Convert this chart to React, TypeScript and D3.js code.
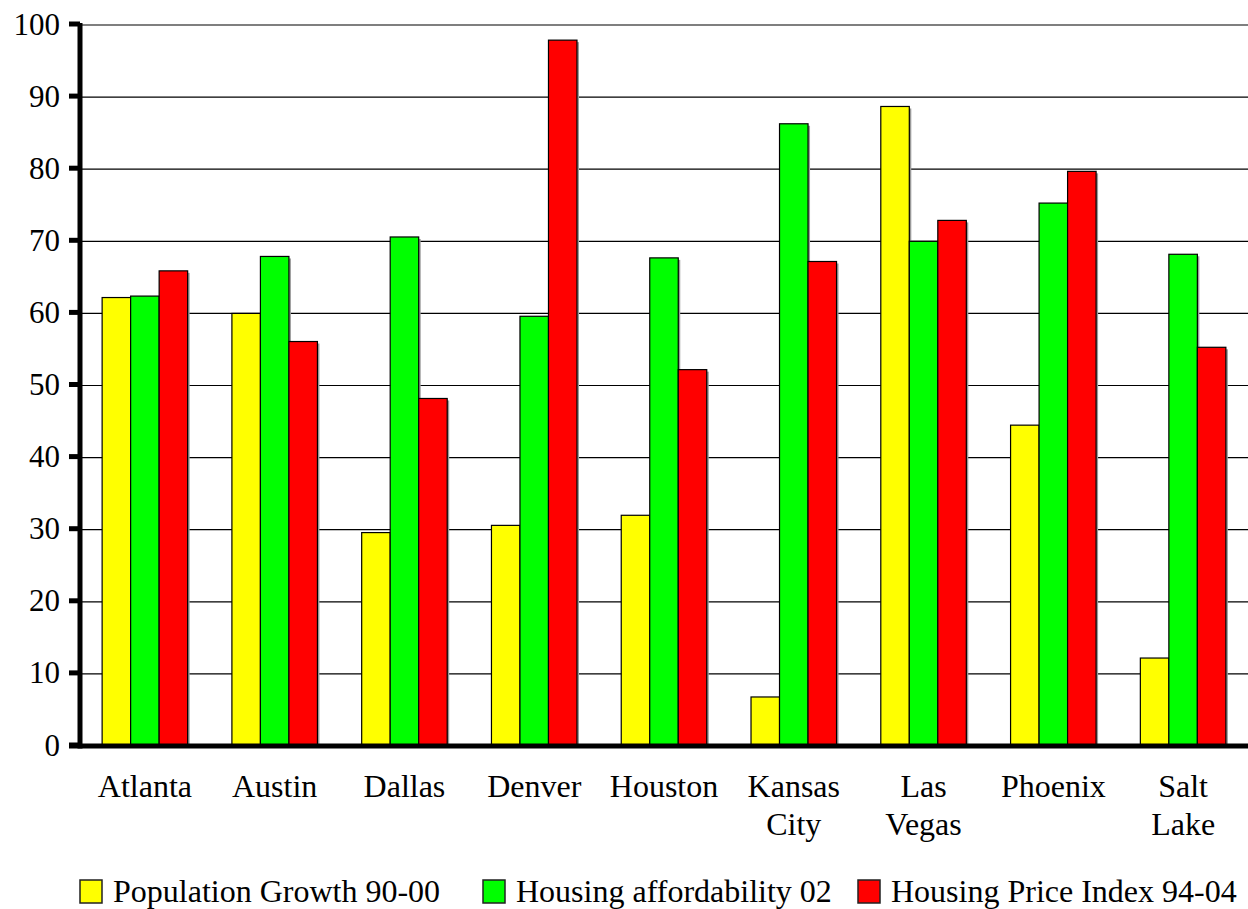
import React from "react";
import * as d3 from "d3";

const cities = [
  ["Atlanta"],
  ["Austin"],
  ["Dallas"],
  ["Denver"],
  ["Houston"],
  ["Kansas", "City"],
  ["Las", "Vegas"],
  ["Phoenix"],
  ["Salt", "Lake"],
];

const seriesNames = [
  "Population Growth 90-00",
  "Housing affordability 02",
  "Housing Price Index 94-04",
];
const seriesColors = ["#ffff00", "#00ff00", "#ff0000"];

const populationGrowth = [62.2, 60.0, 29.6, 30.6, 32.0, 6.8, 88.7, 44.5, 12.2];
const housingAffordability = [62.4, 67.9, 70.6, 59.6, 67.7, 86.3, 70.0, 75.3, 68.2];
const housingPriceIndex = [65.9, 56.1, 48.2, 97.9, 52.2, 67.2, 72.9, 79.7, 55.3];

const yTicks = [0, 10, 20, 30, 40, 50, 60, 70, 80, 90, 100];

const W = 1248;
const H = 909;
const FONT = "Liberation Serif, Times New Roman, Times, DejaVu Serif, serif";

export default function App() {
  const series = [populationGrowth, housingAffordability, housingPriceIndex];
  const left = 80;
  const right = 1248;
  const yTop = 25;
  const yBottom = 746;

  const x0 = d3
    .scaleBand<number>()
    .domain(d3.range(cities.length))
    .range([left, right])
    .paddingInner(0.341)
    .paddingOuter(0.1705);
  const x1 = d3
    .scaleBand<number>()
    .domain(d3.range(series.length))
    .range([0, x0.bandwidth()]);
  const y = d3.scaleLinear().domain([0, 100]).range([yBottom, yTop]);

  const legendX = [80, 483, 858];
  const textStyle = { fontFamily: FONT };

  return (
    <svg
      width={W}
      height={H}
      style={{ position: "absolute", left: 0, top: 0, display: "block", background: "#fff", fontFamily: FONT }}
    >
      {/* grid lines */}
      {yTicks.slice(1).map((t) => (
        <line key={"g" + t} x1={left} x2={right} y1={y(t)} y2={y(t)} stroke="#000" strokeWidth={1.2} />
      ))}

      {/* bars */}
      {cities.map((_, ci) =>
        series.map((vals, si) => {
          const bx = (x0(ci) as number) + (x1(si) as number);
          const by = y(vals[ci]);
          const bw = x1.bandwidth();
          const bh = yBottom - by;
          return (
            <g key={ci + "-" + si}>
              <rect x={bx + 2} y={by + 2} width={bw} height={bh} fill="#9a9a9a" />
              <rect x={bx} y={by} width={bw} height={bh} fill={seriesColors[si]} stroke="#000" strokeWidth={1.2} />
            </g>
          );
        })
      )}

      {/* y axis */}
      <line x1={80} x2={80} y1={yTop - 2} y2={yBottom + 2.5} stroke="#000" strokeWidth={5} />
      {yTicks.map((t) => (
        <g key={"t" + t}>
          <line x1={69} x2={80} y1={y(t) - 1} y2={y(t) - 1} stroke="#000" strokeWidth={5} />
          <text x={60} y={y(t) - 1} textAnchor="end" dominantBaseline="central" fontSize={31} fill="#000" style={textStyle}>
            {t}
          </text>
        </g>
      ))}

      {/* x axis */}
      <line x1={69} x2={right} y1={yBottom} y2={yBottom} stroke="#000" strokeWidth={5} />
      {cities.map((lines, ci) => (
        <text
          key={"c" + ci}
          x={(x0(ci) as number) + x0.bandwidth() / 2}
          y={797}
          textAnchor="middle"
          fontSize={32}
          fill="#000"
          style={textStyle}
        >
          {lines.map((ln, li) => (
            <tspan key={li} x={(x0(ci) as number) + x0.bandwidth() / 2} dy={li === 0 ? 0 : 38}>
              {ln}
            </tspan>
          ))}
        </text>
      ))}

      {/* legend */}
      {seriesNames.map((name, si) => (
        <g key={"l" + si}>
          <rect x={legendX[si]} y={880} width={22} height={23} fill={seriesColors[si]} stroke="#222" strokeWidth={1.5} />
          <text x={legendX[si] + 33} y={902} fontSize={32} fill="#000" style={textStyle}>
            {name}
          </text>
        </g>
      ))}
    </svg>
  );
}
